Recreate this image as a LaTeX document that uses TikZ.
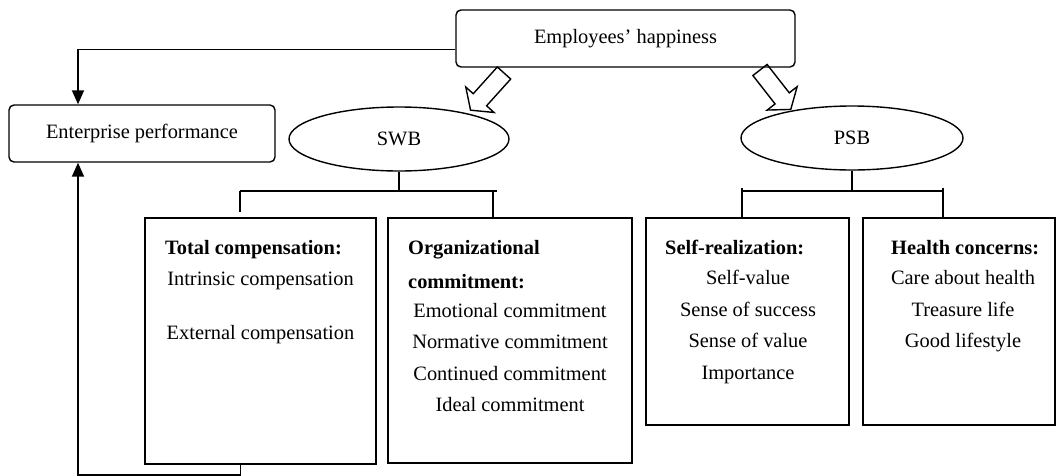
\documentclass[tikz,border=0pt]{standalone}
\usepackage{fontspec}
\setmainfont{Liberation Serif}
\usetikzlibrary{arrows.meta,shapes.geometric}
\tikzset{
  rbox/.style={draw,rounded corners=5pt,line width=1.4pt,inner sep=0pt},
  sqbox/.style={draw,line width=1.4pt,inner sep=0pt},
  oval/.style={draw,ellipse,line width=1.4pt,inner sep=0pt},
  hdr/.style={anchor=base west,inner sep=0pt,align=left,font=\bfseries\fontsize{20.4}{34}\selectfont},
  items/.style={anchor=base,inner sep=0pt,align=center},
  link/.style={line width=1.8pt},
  hollow/.style={line width=1.4pt,line join=miter}
}
\begin{document}
\begin{tikzpicture}[x=1pt,y=-1pt,>={Triangle[length=14pt,width=12pt]},font=\fontsize{20.4}{31.5}\selectfont]
\useasboundingbox (0,0) rectangle (1058,475);
% top level
\node[rbox,minimum width=339pt,minimum height=57pt] (happy) at (625.5,38.5) {Employees’ happiness};
\node[rbox,minimum width=266pt,minimum height=57pt] (perf) at (142,133.5) {Enterprise performance};
\node[oval,minimum width=220pt,minimum height=64pt] (swb) at (399,139) {SWB};
\node[oval,minimum width=222pt,minimum height=64pt] (psb) at (852,138) {PSB};
% boxes
\node[sqbox,minimum width=231pt,minimum height=246pt] (box1) at (260.5,341) {};
\node[sqbox,minimum width=244pt,minimum height=245pt] (box2) at (510,340.5) {};
\node[sqbox,minimum width=203pt,minimum height=207pt] (box3) at (747.5,321.5) {};
\node[sqbox,minimum width=192pt,minimum height=207pt] (box4) at (959,321.5) {};
% texts (base = last line)
\node[hdr] (tc) at (165,254.5) {Total compensation:};
\node[items] (tci) at (260.5,339.5) {Intrinsic compensation\\[22.5pt]External compensation};
\node[hdr] (oc) at (408,288.5) {Organizational\\commitment:};
\node[items] (oci) at (510,411.5) {Emotional commitment\\Normative commitment\\Continued commitment\\Ideal commitment};
\node[hdr] (sr) at (665,254.5) {Self-realization:};
\node[items] (sri) at (748,379) {Self-value\\Sense of success\\Sense of value\\Importance};
\node[hdr] (hc) at (891,254.5) {Health concerns:};
\node[items] (hci) at (963,347.5) {Care about health\\Treasure life\\Good lifestyle};
% hollow arrows
\draw[hollow,shift={(504,73)},rotate=-132] (0,-9)--(36,-9)--(36,-19)--(50,0)--(36,19)--(36,9)--(0,9)--cycle;
\draw[hollow,shift={(760,70)},rotate=-52] (0,-9)--(36,-9)--(36,-19)--(50,0)--(36,19)--(36,9)--(0,9)--cycle;
% feedback
\draw[link,->] ([yshift=-11pt]happy.west) -| ([xshift=-64pt]perf.north);
\draw[link,->] ([xshift=-20pt]box1.south) -- ++(0,10) -| ([xshift=-64pt]perf.south);
% branches
\coordinate (swbL) at (240,191);
\coordinate (swbR) at (493,191);
\coordinate (swbE) at (497,191);
\draw[link] (swb.south) -- (swb.south |- swbL);
\draw[link] (swbL) -- (swbE);
\draw[link] (swbL) -- ++(0,21);
\draw[link] (swbR) -- (swbR |- box2.north);
\coordinate (psbL) at (742,191);
\coordinate (psbR) at (943,191);
\draw[link] (psb.south) -- (psb.south |- psbL);
\draw[link] (psbL) -- (psbR);
\draw[link] ([yshift=3pt]psbL) -- (psbL |- box3.north);
\draw[link] ([yshift=3pt]psbR) -- (psbR |- box4.north);
\end{tikzpicture}
\end{document}
